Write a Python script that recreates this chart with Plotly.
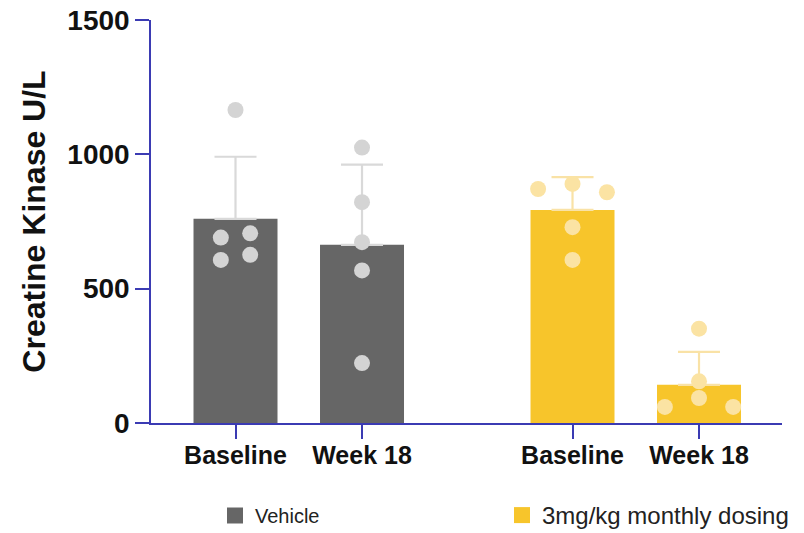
import plotly.graph_objects as go

# ---- data ----
groups = ["Vehicle", "3mg/kg monthly dosing"]
timepoints = ["Baseline", "Week 18"]
vehicle_mean = [760, 663]
vehicle_sd = [231, 299]
treated_mean = [793, 142]
treated_sd = [122, 123]
vehicle_points = [[1165, 706, 690, 626, 607], [1025, 822, 673, 568, 223]]
treated_points = [[871, 890, 859, 729, 607], [351, 155, 93, 60, 60]]
y_ticks = [0, 500, 1000, 1500]

# ---- layout helpers (positions, styles) ----
group_gap = 2.664
bar_width = 0.664
jitter = {
    ("v", 0): [0, 0.116, -0.116, 0.116, -0.116],
    ("v", 1): [0, 0, 0, 0, 0],
    ("t", 0): [-0.272, 0, 0.272, 0, 0],
    ("t", 1): [0, 0, 0, -0.27, 0.27],
}
AX = "#3b3bb3"
FONT = "Liberation Sans, Arial, sans-serif"
styles = {
    "v": dict(bar="#666666", pt="#d4d4d4", err="#d9d9d9"),
    "t": dict(bar="#f7c52b", pt="#fbe3a3", err="#f9e2a6"),
}

fig = go.Figure()
series = [("v", vehicle_mean, vehicle_sd, vehicle_points),
          ("t", treated_mean, treated_sd, treated_points)]
all_x, all_text = [], []
for gi, (key, means, sds, pts) in enumerate(series):
    xs = [gi * group_gap + i for i in range(len(timepoints))]
    all_x += xs
    all_text += timepoints
    st = styles[key]
    fig.add_trace(go.Bar(
        x=xs, y=means, width=bar_width, marker=dict(color=st["bar"], line=dict(width=0)),
        error_y=dict(type="data", symmetric=False, array=sds, arrayminus=[0] * len(sds),
                     color=st["err"], thickness=2.2, width=21),
        showlegend=False, hoverinfo="skip"))
    for i, vals in enumerate(pts):
        px = [xs[i] + j for j in jitter[(key, i)]]
        fig.add_trace(go.Scatter(
            x=px, y=vals, mode="markers",
            marker=dict(color=st["pt"], size=16, line=dict(width=0)),
            showlegend=False, hoverinfo="skip"))
    # legend entry
    fig.add_trace(go.Scatter(
        x=[None], y=[None], mode="markers", name=groups[gi],
        marker=dict(symbol="square", size=16, color=st["bar"]),
        legend="legend" if gi == 0 else "legend2"))

fig.update_layout(
    width=804, height=533,
    margin=dict(l=151, r=22, t=20, b=110, autoexpand=False),
    plot_bgcolor="white", paper_bgcolor="white",
    font=dict(family=FONT, color="#111111"),
    xaxis=dict(range=[-0.668, 4.32], tickvals=all_x, ticktext=all_text,
               showline=True, linecolor=AX, linewidth=1.5, ticks="outside",
               ticklen=14, tickcolor=AX, tickwidth=1.5, showgrid=False, zeroline=False,
               automargin=False, ticklabelstandoff=-5,
               tickfont=dict(size=25, family=FONT, weight="bold", color="#111111")),
    yaxis=dict(range=[0, 1500], tickvals=y_ticks, showline=True, linecolor=AX,
               linewidth=1.5, ticks="outside", ticklen=14, tickcolor=AX, tickwidth=1.5,
               showgrid=False, zeroline=False, automargin=False,
               tickfont=dict(size=28, family=FONT, weight="bold", color="#111111"),
               title=dict(text="Creatine Kinase U/L", standoff=12,
                          font=dict(size=32, family=FONT, weight="bold", color="#111111"))),
    legend=dict(orientation="h", xref="container", yref="container",
                x=215 / 804, y=1 - 515.5 / 533, xanchor="left", yanchor="middle",
                font=dict(size=20, family=FONT, color="#222222"), bgcolor="rgba(0,0,0,0)"),
    legend2=dict(orientation="h", xref="container", yref="container",
                 x=502 / 804, y=1 - 515.5 / 533, xanchor="left", yanchor="middle",
                 font=dict(size=24, family=FONT, color="#222222"), bgcolor="rgba(0,0,0,0)"),
)

fig.write_html("out.html")
